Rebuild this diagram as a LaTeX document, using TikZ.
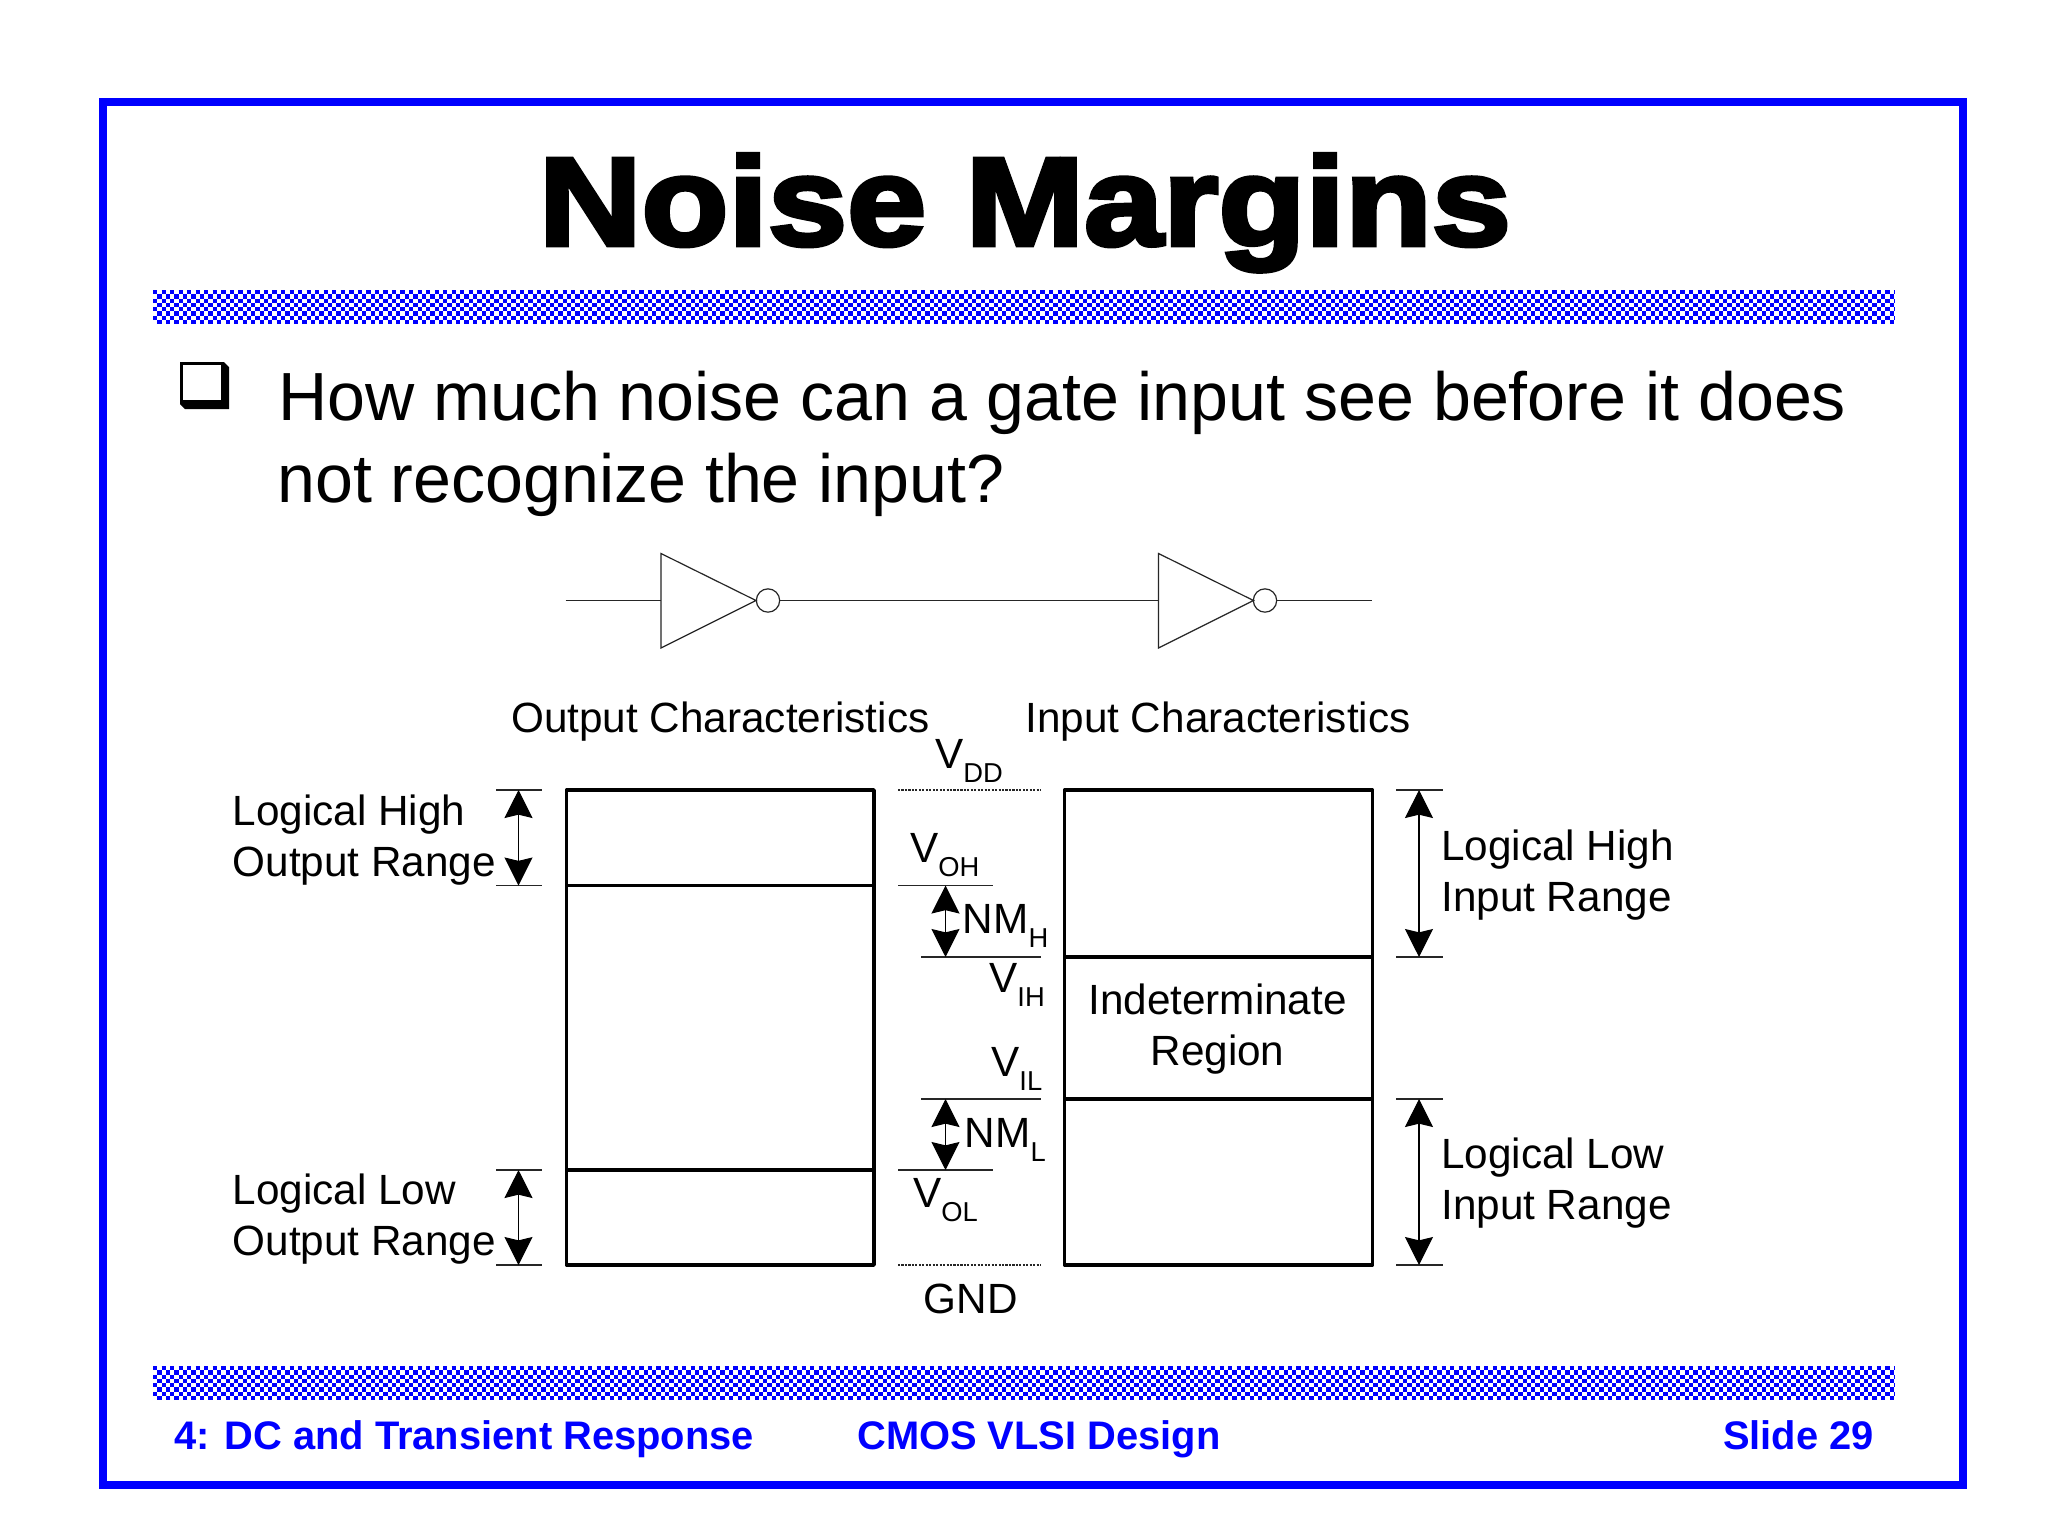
\documentclass[tikz,border=0pt]{standalone}
\usepackage{fontspec}
\usetikzlibrary{arrows.meta}
\setmainfont{Liberation Sans}
\newfontfamily\titlefont[FakeBold=3.6,FakeStretch=1.135]{Liberation Sans Bold}
\definecolor{slideblue}{RGB}{0,0,255}
\newcommand{\subl}[2]{#1\raisebox{-10.5pt}{\fontsize{20.5}{21}\selectfont #2}}
\tikzset{
  lab/.style={anchor=base west,inner sep=0pt,font=\fontsize{31.7}{38}\selectfont},
  labc/.style={anchor=base,inner sep=0pt,font=\fontsize{31.7}{38}\selectfont},
  foot/.style={inner sep=0pt,text=slideblue,font=\fontsize{29.9}{36}\selectfont\bfseries},
  body/.style={anchor=base west,inner sep=0pt,font=\fontsize{51.1}{60}\selectfont},
  regionbox/.style={line width=2.7pt,line join=round},
  thinline/.style={line width=0.8pt,draw=black!85},
  dotline/.style={line width=0.9pt,dash pattern=on 1.6pt off 1pt,draw=black!85},
  dim/.style={line width=0.8pt,{Stealth[length=21pt,width=21pt,inset=2.5pt]}-{Stealth[length=21pt,width=21pt,inset=2.5pt]}},
  gate/.style={line width=0.9pt,draw=black!85},
  bubble/.style={circle,draw=black!85,line width=0.9pt,minimum size=17.5pt,inner sep=0pt},
}
\begin{document}
\begin{tikzpicture}[x=0.75pt,y=-0.75pt]
\useasboundingbox (0,0) rectangle (2048,1536);
\fill[white] (0,0) rectangle (2048,1536);
% frame
\draw[slideblue,line width=6pt] (103,102) rectangle (1963,1485);
% checker bars
\foreach \ybar in {290,1366}{
  \foreach \r in {0,...,7}{
    \pgfmathsetmacro{\yy}{\ybar+(\r+0.5)*4.25}
    \pgfmathsetmacro{\ph}{mod(\r,2)*3.2}
    \draw[slideblue,line width=3.19pt,dash pattern=on 3.2pt off 3.2pt,dash phase=\ph pt] (153,\yy) -- (1895,\yy);
  }
}
% title
\node[anchor=base,inner sep=0pt,font=\fontsize{94}{106}\selectfont\titlefont] (title) at (1025,245) {Noise Margins};
% bullet
\fill[black] (180,362) -- (224,362) -- (229,367) -- (229,409) -- (185,409) -- (180,404) -- cycle;
\fill[white] (183,365) rectangle (221,400);
\node[body] (line1) at (278,420.5) {How much noise can a gate input see before it does};
\node[body] (line2) at (277,502.5) {not recognize the input?};
% inverters
\coordinate (in) at (565.5,600.5);
\coordinate (t1w) at (661,600.5);
\coordinate (t2w) at (1158.5,600.5);
\coordinate (out) at (1372,600.5);
\node[bubble] (b1) at (768,600.5) {};
\node[bubble] (b2) at (1265,600.5) {};
\draw[gate] (661,553.5) -- (756,600.5) -- (661,648) -- cycle;
\draw[gate] (1158.5,553.5) -- (1253.5,600.5) -- (1158.5,648) -- cycle;
\draw[gate] (in) -- (t1w);
\draw[gate] (b1.east) -- (t2w);
\draw[gate] (b2.east) -- (out);
% boxes
\draw[regionbox] (566.5,790) rectangle (874,1265);
\draw[regionbox] (566.5,885.5) -- (874,885.5);
\draw[regionbox] (566.5,1170) -- (874,1170);
\draw[regionbox] (1064.5,790) rectangle (1372.5,1265);
\draw[regionbox] (1064.5,957) -- (1372.5,957);
\draw[regionbox] (1064.5,1099) -- (1372.5,1099);
% level lines
\draw[dotline] (898,790) -- (1041,790);
\draw[dotline] (898,1265) -- (1041,1265);
\draw[thinline] (898,885.5) -- (993,885.5);
\draw[thinline] (921,957) -- (1041,957);
\draw[thinline] (921,1099) -- (1041,1099);
\draw[thinline] (898,1170) -- (993,1170);
% ticks
\draw[thinline] (496,790) -- (542,790);
\draw[thinline] (496,885.5) -- (542,885.5);
\draw[thinline] (496,1170) -- (542,1170);
\draw[thinline] (496,1265) -- (542,1265);
\draw[thinline] (1396,790) -- (1443,790);
\draw[thinline] (1396,957) -- (1443,957);
\draw[thinline] (1396,1099) -- (1443,1099);
\draw[thinline] (1396,1265) -- (1443,1265);
% arrows
\draw[dim] (518.5,790) -- (518.5,885.5);
\draw[dim] (518.5,1170) -- (518.5,1265);
\draw[dim] (945.5,885.5) -- (945.5,957);
\draw[dim] (945.5,1099) -- (945.5,1170);
\draw[dim] (1419,790) -- (1419,957);
\draw[dim] (1419,1099) -- (1419,1265);
% labels
\node[lab] (oc) at (511,732) {Output Characteristics};
\node[lab] (ic) at (1025,732) {Input Characteristics};
\node[lab] (vdd) at (935,768) {\subl{V}{DD}};
\node[lab] (voh) at (910,862) {\subl{V}{OH}};
\node[lab] (nmh) at (962.5,933.5) {\subl{NM}{H}};
\node[lab] (vih) at (989,992.5) {\subl{V}{IH}};
\node[lab] (vil) at (991,1076.5) {\subl{V}{IL}};
\node[lab] (nml) at (964.5,1147.5) {\subl{NM}{L}};
\node[lab] (vol) at (913,1207) {\subl{V}{OL}};
\node[lab] (gnd) at (923.5,1313.5) {GND};
\node[labc] (ind) at (1217.5,1014.5) {Indeterminate};
\node[labc] (reg) at (1217.5,1065.5) {Region};
\node[lab] (lhi1) at (1441,860.5) {Logical High};
\node[lab] (lhi2) at (1441,911.5) {Input Range};
\node[lab] (lli1) at (1441,1168.5) {Logical Low};
\node[lab] (lli2) at (1441,1219.5) {Input Range};
\node[lab] (lho1) at (232.5,825) {Logical High};
\node[lab] (lho2) at (232.5,876) {Output Range};
\node[lab] (llo1) at (232.5,1204.5) {Logical Low};
\node[lab] (llo2) at (232.5,1255.5) {Output Range};
% footer
\node[foot,anchor=base west] (f1) at (174,1449.5) {4: DC and Transient Response};
\node[foot,anchor=base west] (f2) at (857,1449.5) {CMOS VLSI Design};
\node[foot,anchor=base east] (f3) at (1874,1449.5) {Slide 29};
\end{tikzpicture}
\end{document}
